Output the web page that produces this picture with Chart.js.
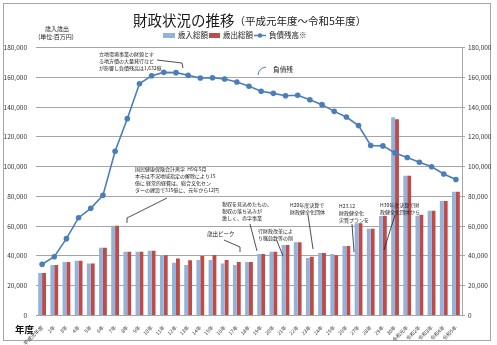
<!DOCTYPE html>
<html lang="ja">
<head>
<meta charset="utf-8">
<title>財政状況の推移</title>
<script src="https://cdn.jsdelivr.net/npm/chart.js@4.4.1/dist/chart.umd.min.js"></script>
<style>
  html, body { margin: 0; padding: 0; background: #fff; }
</style>
</head>
<body>
<canvas id="theChart" width="497" height="345"></canvas>
<script>
"use strict";

// Data (単位: 百万円)
const years = [
  "平成元年度", "2年", "3年", "4年", "5年", "6年", "7年", "8年", "9年", "10年",
  "11年", "12年", "13年", "14年", "15年", "16年", "17年", "18年", "19年", "20年",
  "21年", "22年", "23年", "24年", "25年", "26年", "27年", "28年", "29年", "30年",
  "令和元年", "令和2年", "令和3年", "令和4年", "令和5年"
];
const revenue = [
  28500, 33900, 35900, 36800, 35000, 45500, 60300, 42900, 42900, 43500,
  40400, 35500, 33900, 37300, 37300, 35000, 33900, 35900, 41300, 42800,
  47300, 49200, 38600, 42000, 41300, 46700, 61900, 58200, 66800, 133100,
  93900, 67000, 70400, 76900, 83100
];
const expenditure = [
  28500, 33900, 35900, 36800, 35000, 45500, 60300, 42900, 42900, 43500,
  40400, 38200, 37100, 40000, 40600, 37300, 35900, 35900, 41300, 42800,
  47300, 49200, 39500, 42000, 40400, 46700, 61900, 58200, 66800, 131800,
  93900, 67700, 70400, 76900, 83100
];
const debt = [
  34400, 39500, 51600, 65700, 72000, 80700, 110300, 132200, 155700, 161000,
  163300, 163100, 161300, 159500, 159700, 158800, 156800, 154000, 150600, 149200,
  147600, 147900, 144900, 141600, 137100, 133300, 127600, 114200, 113900, 109200,
  106100, 102900, 99900, 95000, 91300
];
const yMax = 180000;
const yStep = 20000;

const JP = '"Noto Sans CJK JP", "Noto Sans", sans-serif';
const BLUE = "#93B3DB";
const RED = "#BE4B48";
const LINE = "#4A7EBB";

Chart.defaults.font.family = JP;
Chart.defaults.color = "#333";

// notes drawn over the chart: text lines, position, leader line
const notes = [
  { x: 99, y: 54, lines: ["立地環境事業の財源とす", "る地方債の大量発行など", "が影響し負債残高は1,632億"],
    path: [[157, 60], [182, 63], [183, 68]] },
  { x: 135, y: 169, lines: ["国民健康保険会計黒字  H9年5月", "本市は不況地域指定の解除により15", "億に 経常的経費は、総合文化セン", "ターの建設で315億に、元年から12円"],
    path: [[167, 198], [127, 218], [127, 223]] },
  { x: 222, y: 204, lines: ["税収を見込めたもの、", "税収の落ち込みが", "激しく、赤字事業"],
    path: [[250, 224], [257, 251]] },
  { x: 207, y: 234, lines: ["歳出ピーク"], size: 5.5,
    path: [[224, 240], [240, 247], [240, 252]] },
  { x: 258, y: 231, lines: ["行財政改革によ", "り職員数等の削"],
    path: [[277, 241], [283, 256]] },
  { x: 290, y: 205, lines: ["H20年度決算で", "財政健全化団体"],
    path: [[308, 215], [313, 249]] },
  { x: 339, y: 206, lines: ["H23.12", "財政健全化", "実質プランを"],
    path: [[352, 224], [354, 252]] },
  { x: 380, y: 205, lines: ["H30年度決算で財", "政健全化団体から"],
    path: [[395, 215], [384, 250]] }
];

function put(ctx, s, x, y, size, opts) {
  opts = opts || {};
  ctx.font = (opts.weight || "normal") + " " + size + "px " + JP;
  ctx.fillStyle = opts.color || "#222";
  ctx.textAlign = opts.align || "left";
  ctx.textBaseline = "middle";
  ctx.fillText(s, x, y);
  return ctx.measureText(s).width;
}

const decor = {
  id: "decor",
  beforeDraw(chart) {
    const ctx = chart.ctx;
    ctx.save();
    ctx.fillStyle = "#fff";
    ctx.fillRect(0, 0, chart.width, chart.height);
    ctx.strokeStyle = "#a6a6a6";
    ctx.lineWidth = 1;
    ctx.strokeRect(3.5, 3.5, 487, 337);
    ctx.restore();
  },
  afterDraw(chart) {
    const ctx = chart.ctx;
    ctx.save();

    // title
    const w = put(ctx, "財政状況の推移", 133, 20, 14.5, { color: "#1a1a1a" });
    put(ctx, "（平成元年度～令和5年度）", 133 + w, 21, 10.5, { color: "#1a1a1a" });

    // legend
    ctx.fillStyle = BLUE;
    ctx.fillRect(163, 33, 12, 5);
    put(ctx, "歳入総額", 178, 35.5, 7.5);
    ctx.fillStyle = RED;
    ctx.fillRect(209, 33, 11, 5);
    put(ctx, "歳出総額", 223, 35.5, 7.5);
    ctx.strokeStyle = LINE;
    ctx.lineWidth = 1.5;
    ctx.beginPath();
    ctx.moveTo(254, 35.5);
    ctx.lineTo(266, 35.5);
    ctx.stroke();
    ctx.fillStyle = LINE;
    ctx.beginPath();
    ctx.arc(260, 35.5, 2.3, 0, Math.PI * 2);
    ctx.fill();
    put(ctx, "負債残高※", 269, 35.5, 7.5);

    // axis caption
    put(ctx, "歳入歳出", 57, 29, 6, { align: "center" });
    put(ctx, "(単位:百万円)", 56, 37, 6, { align: "center" });
    put(ctx, "年度", 15, 329, 9.5, { weight: "bold", color: "#111" });

    // 負債残 label
    put(ctx, "負債残", 273, 69, 6.7);
    ctx.strokeStyle = LINE;
    ctx.lineWidth = 1;
    ctx.beginPath();
    ctx.moveTo(258, 75);
    ctx.quadraticCurveTo(259, 68, 266, 67);
    ctx.stroke();

    // notes
    notes.forEach(n => {
      const size = n.size || 5;
      n.lines.forEach((s, i) => put(ctx, s, n.x, n.y + i * 7, size, { color: "#222" }));
      ctx.strokeStyle = "#222";
      ctx.lineWidth = 0.8;
      ctx.beginPath();
      n.path.forEach((p, i) => (i ? ctx.lineTo(p[0], p[1]) : ctx.moveTo(p[0], p[1])));
      ctx.stroke();
    });

    ctx.restore();
  }
};

new Chart(document.getElementById("theChart"), {
  type: "bar",
  data: {
    labels: years,
    datasets: [
      {
        type: "line",
        label: "負債残高※",
        data: debt,
        yAxisID: "y",
        borderColor: LINE,
        backgroundColor: LINE,
        borderWidth: 1.6,
        pointRadius: 2.8,
        pointBackgroundColor: LINE,
        pointBorderWidth: 0,
        tension: 0,
        order: 0
      },
      {
        label: "歳入総額",
        data: revenue,
        yAxisID: "y",
        backgroundColor: BLUE,
        categoryPercentage: 0.64,
        barPercentage: 1.0,
        order: 1
      },
      {
        label: "歳出総額",
        data: expenditure,
        yAxisID: "y",
        backgroundColor: RED,
        categoryPercentage: 0.64,
        barPercentage: 1.0,
        order: 1
      }
    ]
  },
  options: {
    responsive: false,
    animation: false,
    devicePixelRatio: 1,
    layout: { padding: { left: 0, right: 0, top: 47.5, bottom: 0 } },
    plugins: {
      legend: { display: false },
      title: { display: false },
      tooltip: { enabled: false }
    },
    scales: {
      x: {
        grid: { display: false },
        border: { color: "#a6a6a6" },
        ticks: {
          autoSkip: false,
          minRotation: 45,
          maxRotation: 45,
          padding: 1,
          font: { size: 5 },
          color: "#333"
        },
        afterFit(s) { s.height = 29.5; }
      },
      y: {
        position: "left",
        min: 0,
        max: yMax,
        ticks: {
          stepSize: yStep,
          padding: 9,
          font: { size: 6.5 },
          color: "#333",
          callback: v => v.toLocaleString("en-US")
        },
        grid: { color: "#a6a6a6", drawTicks: false },
        border: { display: false },
        afterFit(s) { s.width = 36; }
      },
      y2: {
        position: "right",
        min: 0,
        max: yMax,
        ticks: {
          stepSize: yStep,
          padding: 3,
          font: { size: 6.5 },
          color: "#333",
          callback: v => v.toLocaleString("en-US")
        },
        grid: { drawOnChartArea: false, drawTicks: true, tickLength: 3, color: "#a6a6a6" },
        border: { display: true, color: "#a6a6a6" },
        afterFit(s) { s.width = 35; }
      }
    }
  },
  plugins: [decor]
});
</script>
</body>
</html>
